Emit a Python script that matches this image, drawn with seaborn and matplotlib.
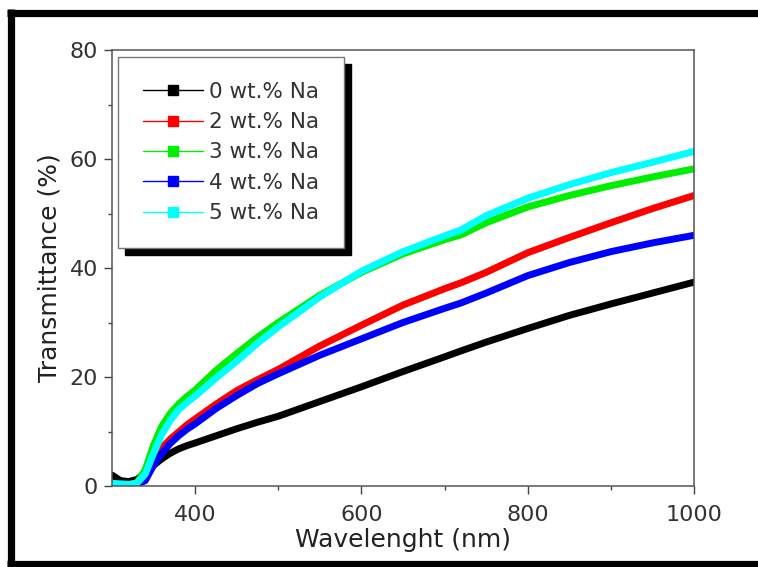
import matplotlib
matplotlib.use("Agg")
import matplotlib.pyplot as plt
import seaborn as sns
import pandas as pd
from matplotlib.lines import Line2D

# ---- data ----
wavelength = [300, 310, 320, 330, 340, 350, 360, 370, 380, 390, 400, 425, 450, 475,
              500, 550, 600, 650, 700, 720, 750, 800, 850, 900, 950, 1000]
na0 = [2.0, 1.0, 0.8, 1.2, 2.4, 3.8, 5.0, 6.0, 6.8, 7.4, 7.9, 9.2, 10.5, 11.7,
       12.8, 15.5, 18.2, 21.0, 23.7, 24.8, 26.4, 28.9, 31.3, 33.4, 35.4, 37.4]
na2 = [0.3, 0.2, 0.2, 0.5, 2.0, 4.8, 7.0, 8.6, 9.9, 11.2, 12.3, 15.0, 17.5, 19.5,
       21.4, 25.7, 29.5, 33.2, 36.2, 37.3, 39.2, 42.8, 45.6, 48.3, 50.9, 53.3]
na3 = [0.3, 0.2, 0.2, 0.6, 3.0, 7.5, 11.0, 13.3, 15.0, 16.4, 17.6, 21.2, 24.3, 27.3,
       30.0, 35.0, 39.2, 42.6, 45.2, 46.1, 48.3, 51.2, 53.3, 55.1, 56.7, 58.2]
na4 = [0.2, 0.1, 0.1, 0.2, 1.0, 3.8, 6.0, 7.8, 9.2, 10.4, 11.4, 14.2, 16.6, 18.8,
       20.6, 24.0, 27.0, 30.0, 32.6, 33.6, 35.4, 38.6, 41.0, 43.0, 44.6, 46.0]
na5 = [0.5, 0.4, 0.3, 0.5, 2.2, 6.0, 9.5, 12.0, 14.0, 15.3, 16.5, 19.8, 22.9, 26.2,
       29.2, 34.7, 39.4, 43.0, 45.9, 47.0, 49.6, 52.8, 55.3, 57.5, 59.4, 61.4]

labels = ["0 wt.% Na", "2 wt.% Na", "3 wt.% Na", "4 wt.% Na", "5 wt.% Na"]
colors = ["#000000", "#ff0000", "#00ee00", "#0000ff", "#00ffff"]
series = [na0, na2, na3, na4, na5]

xticks = [400, 600, 800, 1000]
yticks = [0, 20, 40, 60, 80]

rows = []
for lab, vals in zip(labels, series):
    for w, v in zip(wavelength, vals):
        rows.append({"Wavelength": w, "T": v, "Sample": lab})
df = pd.DataFrame(rows)

sns.set_theme(style="white")
plt.rcParams["font.family"] = ["DejaVu Sans"]

fig = plt.figure(figsize=(7.58, 5.67), dpi=100)
ax = fig.add_axes([112/758, 1-486/567, (694-112)/758, (486-50)/567])

sns.lineplot(data=df, x="Wavelength", y="T", hue="Sample", hue_order=labels,
             palette=dict(zip(labels, colors)), linewidth=5, legend=False,
             ax=ax, sort=True)

ax.set_xlim(300, 1000)
ax.set_ylim(0, 80)
ax.set_xticks(xticks)
ax.set_yticks(yticks)
ax.set_xticks([500, 700, 900], minor=True)
ax.set_yticks([10, 30, 50, 70], minor=True)
ax.tick_params(axis="both", which="major", direction="out", length=6, width=1.0,
               color="#444444", labelsize=16, labelcolor="#333333", pad=4,
               bottom=True, left=True)
ax.tick_params(axis="x", which="major", pad=8)
ax.tick_params(axis="both", which="minor", direction="out", length=3, width=1.0,
               color="#444444", bottom=True, left=True)
for s in ax.spines.values():
    s.set_color("#555555")
    s.set_linewidth(1.1)

ax.set_xlabel("Wavelenght (nm)", fontsize=18, color="#222222", labelpad=2)
ax.set_ylabel("Transmittance (%)", fontsize=18, color="#222222", labelpad=6)

handles = [Line2D([0], [0], color=c, lw=1.0, marker="s", markersize=7,
                  markerfacecolor=c, markeredgecolor=c) for c in colors]
leg = ax.legend(handles, labels, loc="upper left",
                bbox_to_anchor=(118/758, 1-57/567), bbox_transform=fig.transFigure,
                borderaxespad=0, fontsize=15.5, frameon=True, fancybox=False,
                shadow={"color": "black", "alpha": 1, "ox": 5, "oy": -5},
                handlelength=2.8, handletextpad=0.3, labelspacing=0.48,
                borderpad=1.15)
leg.get_frame().set_edgecolor("#777777")
leg.get_frame().set_linewidth(1.0)
for t in leg.get_texts():
    t.set_color("#333333")

# outer black frame
W, H = 758, 567
def fx(p): return p / W
def fy(p): return 1 - p / H
fig.add_artist(Line2D([fx(7), fx(760)], [fy(12.5), fy(12.5)], color="black", lw=5.2,
                      solid_capstyle="butt", transform=fig.transFigure))
fig.add_artist(Line2D([fx(10.5), fx(10.5)], [fy(9), fy(570)], color="black", lw=5.2,
                      solid_capstyle="butt", transform=fig.transFigure))
fig.add_artist(Line2D([fx(7), fx(760)], [fy(564), fy(564)], color="black", lw=5.2,
                      solid_capstyle="butt", transform=fig.transFigure))

fig.savefig("out.png", dpi=100)
